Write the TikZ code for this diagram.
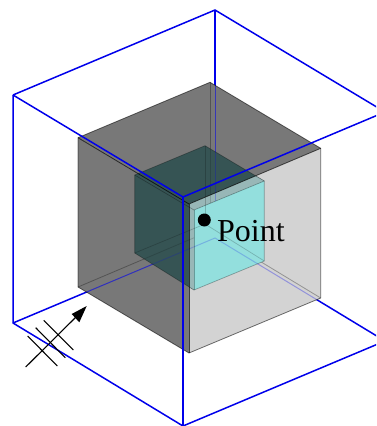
\documentclass[tikz,border=0pt]{standalone}
\usepackage{fontspec}
\setmainfont{Liberation Serif}
\definecolor{wire}{RGB}{0,0,235}
\definecolor{outerdark}{RGB}{120,120,120}
\definecolor{outerlight}{RGB}{211,211,211}
\definecolor{innerdark}{RGB}{54,84,84}
\definecolor{innercyan}{RGB}{147,223,221}
\definecolor{innergrey}{RGB}{152,183,183}
\tikzset{
  wireline/.style={draw=wire,line width=1.5pt},
  hiddenwire/.style={draw=wire,line width=1pt,opacity=.55},
  outeredge/.style={draw=black,line width=.8pt,opacity=.45,line join=round},
  inneredge/.style={draw=black,line width=.7pt,opacity=.3,line join=round},
  symbolline/.style={draw=black,line width=1.1pt},
}
\begin{document}
\begin{tikzpicture}[x=1pt,y=-1pt]
\useasboundingbox (0,0) rectangle (376,426);
\clip (0,0) rectangle (376,426);
\fill[white] (0,0) rectangle (376,426);
% wire box corners
\coordinate (wA) at (215,10);
\coordinate (wB) at (13,95);
\coordinate (wC) at (183,197);
\coordinate (wD) at (385,112);
\coordinate (wE) at (215,238);
\coordinate (wF) at (13,323);
\coordinate (wG) at (183,426);
\coordinate (wH) at (385,341);
% outer cube corners
\coordinate (oA) at (210,82.3);
\coordinate (oB) at (78,137.7);
\coordinate (oC) at (189,204);
\coordinate (oD) at (320.7,148.3);
\coordinate (oE) at (210,231);
\coordinate (oF) at (78,287);
\coordinate (oG) at (189,353);
\coordinate (oH) at (320.7,298);
% inner cube corners
\coordinate (iA) at (205,145.7);
\coordinate (iB) at (134.7,175);
\coordinate (iC) at (194,210);
\coordinate (iD) at (264.3,181);
\coordinate (iE) at (205,224);
\coordinate (iF) at (134.7,253);
\coordinate (iG) at (194,290);
\coordinate (iH) at (264.3,261);
% wire box, visible outside the cube
\draw[wireline,line join=miter] (wB) -- (wA) -- (wD);
\draw[wireline] (wA) -- (wE);
\draw[wireline] (wB) -- (wF) -- (wG) -- (wH);
\draw[wireline] (wF) -- (wE) -- (wH);
% outer cube faces
\fill[outerdark] (oA) -- (oB) -- (oC) -- (oD) -- cycle;
\fill[outerdark] (oB) -- (oC) -- (oG) -- (oF) -- cycle;
\fill[outerlight] (oC) -- (oD) -- (oH) -- (oG) -- cycle;
% wire box seen through the cube
\draw[hiddenwire] (wA) -- (wE);
\begin{scope}
\clip (oB) -- (oC) -- (oG) -- (oF) -- cycle;
\draw[hiddenwire,opacity=.6] (wF) -- (wE);
\end{scope}
\begin{scope}
\clip (oC) -- (oD) -- (oH) -- (oG) -- cycle;
\draw[hiddenwire,opacity=.3] (wF) -- (wE) -- (wH);
\end{scope}
% hidden edges of the outer cube
\draw[outeredge,opacity=.3] (oF) -- (oE) -- (oH);
\draw[outeredge,opacity=.3] (oA) -- (oE);
% inner cube
\fill[innerdark] (iA) -- (iB) -- (iF) -- (iG) -- (iC) -- (iD) -- cycle;
\begin{scope}
\clip (oC) -- (oD) -- (oH) -- (oG) -- cycle;
\fill[innergrey] (iA) -- (iB) -- (iF) -- (iG) -- (iC) -- (iD) -- cycle;
\end{scope}
\fill[innercyan] (iC) -- (iD) -- (iH) -- (iG) -- cycle;
% lines seen faintly through the inner cube
\begin{scope}
\clip (iA) -- (iB) -- (iF) -- (iG) -- (iC) -- (iD) -- cycle;
\draw[hiddenwire,opacity=.18] (wF) -- (wE);
\draw[hiddenwire,opacity=.25] (wA) -- (wE);
\draw[outeredge,opacity=.15] (oF) -- (oE) -- (oH);
\draw[outeredge,opacity=.15] (oA) -- (oE);
\end{scope}
\begin{scope}
\clip (iC) -- (iD) -- (iH) -- (iG) -- cycle;
\draw[hiddenwire,opacity=.2] (wF) -- (wE) -- (wH);
\end{scope}
% inner cube edges
\draw[inneredge] (iA) -- (iB) -- (iF) -- (iG) -- (iH) -- (iD) -- cycle;
\draw[inneredge] (iB) -- (iC) -- (iD);
\draw[inneredge] (iC) -- (iG);
\draw[inneredge,opacity=.2] (iF) -- (iE) -- (iH);
\draw[inneredge,opacity=.2] (iA) -- (iE);
% outer cube edges
\draw[outeredge,opacity=.55] (oA) -- (oB) -- (oF) -- (oG) -- (oH) -- (oD) -- cycle;
\draw[outeredge,opacity=.7] (oB) -- (oC) -- (oD);
\draw[outeredge,opacity=.7] (oC) -- (oG);
% wire box in front of the cube
\draw[wireline,line join=miter] (wB) -- (wC) -- (wD);
\draw[wireline] (wC) -- (wG);
% point and label
\fill[black] (204.3,220) circle (6.5);
\node[anchor=base west,inner sep=0pt,font=\fontsize{32}{32}\selectfont] (lbl) at (217,241.7) {Point};
% direction symbol
\coordinate (sTail) at (25.7,367);
\coordinate (sTip) at (86.7,306);
\draw[symbolline] (sTail) -- (75.5,317.5);
\fill[black] (sTip) -- (71.7,314) -- (79.3,322.3) -- cycle;
\draw[symbolline] (27.7,336) -- (57.3,366);
\draw[symbolline] (35.7,327.7) -- (65.3,357.7);
\draw[symbolline] (43.7,320.3) -- (73.3,350);
\end{tikzpicture}
\end{document}
